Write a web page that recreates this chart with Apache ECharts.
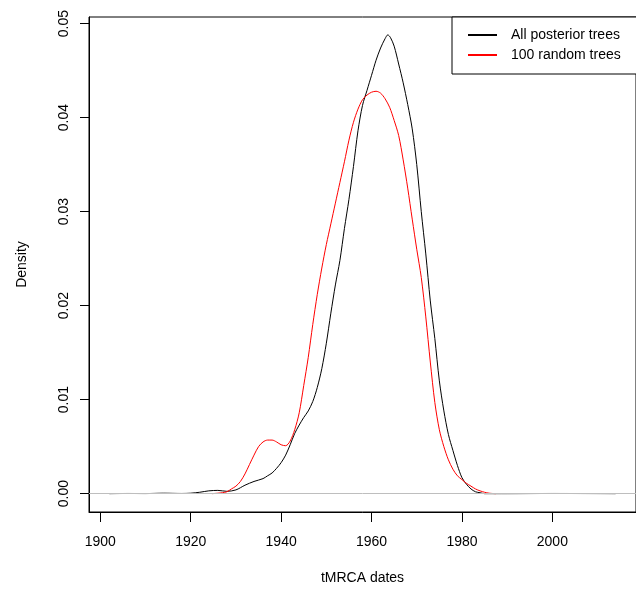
<!DOCTYPE html>
<html>
<head>
<meta charset="utf-8">
<script src="https://cdn.jsdelivr.net/npm/echarts@6/dist/echarts.min.js"></script>
<style>
  html, body { margin: 0; padding: 0; background: #fff; }
  #chart { width: 636px; height: 593px; }
</style>
</head>
<body>
<div id="chart"></div>
<script>
// density of tMRCA dates
const allYears = [1902, 1906, 1910, 1914, 1918, 1920, 1922, 1924, 1926, 1928, 1930, 1932, 1934, 1936, 1937, 1938, 1939, 1940, 1941, 1942, 1943, 1944, 1945, 1946, 1947, 1948, 1949, 1950, 1951, 1952, 1953, 1954, 1955, 1956, 1957, 1958, 1959, 1960, 1961, 1962, 1963, 1963.6, 1964.2, 1965, 1966, 1967, 1968, 1969, 1970, 1971, 1972, 1973, 1974, 1975, 1976, 1977, 1978, 1979, 1980, 1981, 1982, 1983, 1984, 1985, 1990, 2000, 2014];
const allDensity = [0, 0.00002, 0.00001, 0.00005, 0.00002, 0.00005, 0.00015, 0.0003, 0.00035, 0.00025, 0.0004, 0.0009, 0.0013, 0.0016, 0.0019, 0.0022, 0.0027, 0.0033, 0.0041, 0.0052, 0.0064, 0.0073, 0.0081, 0.0088, 0.0098, 0.0113, 0.0133, 0.0160, 0.0192, 0.0222, 0.0248, 0.0282, 0.0313, 0.0348, 0.0386, 0.0413, 0.0429, 0.0445, 0.0461, 0.0474, 0.0484, 0.0488, 0.0485, 0.0476, 0.0457, 0.0437, 0.0414, 0.0388, 0.0350, 0.0300, 0.0255, 0.0205, 0.0165, 0.0120, 0.0088, 0.0063, 0.0046, 0.0030, 0.0017, 0.0010, 0.0005, 0.0002, 0.0001, 0, 0, 0.00002, 0];

const randYears = [1924.7, 1926, 1927, 1928, 1929, 1930, 1931, 1932, 1933, 1934, 1935, 1936, 1937, 1938, 1939, 1940, 1941, 1942, 1943, 1944, 1945, 1946, 1947, 1948, 1949, 1950, 1951, 1952, 1953, 1954, 1955, 1956, 1957, 1958, 1959, 1960, 1961, 1962, 1963, 1964, 1965, 1966, 1967, 1968, 1969, 1970, 1971, 1972, 1973, 1974, 1975, 1976, 1977, 1978, 1979, 1980, 1981, 1982, 1983, 1984, 1985, 1986, 1987.5];
const randDensity = [0, 0.00005, 0.0001, 0.0002, 0.0005, 0.0008, 0.0013, 0.0021, 0.0031, 0.0041, 0.0050, 0.0055, 0.0057, 0.0057, 0.0055, 0.0052, 0.0051, 0.0056, 0.0068, 0.0086, 0.0115, 0.0145, 0.0180, 0.0212, 0.0240, 0.0265, 0.0287, 0.0309, 0.0331, 0.0353, 0.0376, 0.0395, 0.0409, 0.0419, 0.0424, 0.0427, 0.0428, 0.0426, 0.0420, 0.0411, 0.0397, 0.0381, 0.0355, 0.0325, 0.0292, 0.0260, 0.0230, 0.0188, 0.0140, 0.0097, 0.0068, 0.0050, 0.0036, 0.0026, 0.0019, 0.0015, 0.0011, 0.0008, 0.0005, 0.0003, 0.00015, 0.00005, 0];

const xTicks = [1900, 1920, 1940, 1960, 1980, 2000];
const yTicks = [0, 0.01, 0.02, 0.03, 0.04, 0.05];

const font = 'Liberation Sans, Arial, sans-serif';

const pairs = (xs, ys) => xs.map((x, i) => [x, ys[i]]);

const chart = echarts.init(document.getElementById('chart'));
chart.setOption({
  animation: false,
  backgroundColor: '#fff',
  grid: {
    left: 89, top: 17, right: -5, bottom: 81,
    show: true, borderColor: '#000', borderWidth: 1
  },
  legend: {
    orient: 'vertical',
    left: 452, top: 17,
    padding: [11, 20, 12, 15],
    itemWidth: 29, itemHeight: 14, itemGap: 6,
    borderColor: '#000', borderWidth: 1, borderRadius: 0,
    backgroundColor: '#fff',
    itemStyle: { opacity: 0 },
    textStyle: { fontFamily: font, fontSize: 14, color: '#000', padding: [0, 0, 0, 9] },
    data: ['All posterior trees', '100 random trees']
  },
  xAxis: {
    type: 'value',
    min: 1897.5, max: 2018.5,
    name: 'tMRCA dates', nameLocation: 'middle', nameGap: 59,
    nameTextStyle: { fontFamily: font, fontSize: 14, color: '#000' },
    axisLine: { show: true, onZero: false, lineStyle: { color: '#000', width: 1 } },
    axisTick: { show: true, length: 10, customValues: xTicks, lineStyle: { color: '#000' } },
    axisLabel: {
      customValues: xTicks, margin: 23, fontFamily: font, fontSize: 14, color: '#000',
      formatter: v => String(v)
    },
    splitLine: { show: false }
  },
  yAxis: {
    type: 'value',
    min: -0.00195, max: 0.0507,
    name: 'Density', nameLocation: 'middle', nameGap: 60, nameRotate: 90,
    nameTextStyle: { fontFamily: font, fontSize: 14, color: '#000' },
    axisLine: { show: true, onZero: false, lineStyle: { color: '#000', width: 1 } },
    axisTick: { show: true, length: 9, customValues: yTicks, lineStyle: { color: '#000' } },
    axisLabel: {
      customValues: yTicks, rotate: 90, margin: 18,
      fontFamily: font, fontSize: 14, color: '#000',
      formatter: v => v.toFixed(2)
    },
    splitLine: { show: false }
  },
  series: [
    {
      name: 'All posterior trees',
      type: 'line',
      symbol: 'none',
      smooth: 0.3,
      data: pairs(allYears, allDensity),
      lineStyle: { color: '#000', width: 1 },
      itemStyle: { color: '#000' },
      markLine: {
        silent: true, symbol: 'none', label: { show: false },
        lineStyle: { color: '#bebebe', type: 'solid', width: 1 },
        data: [{ yAxis: 0 }]
      },
      z: 3
    },
    {
      name: '100 random trees',
      type: 'line',
      symbol: 'none',
      smooth: 0.3,
      data: pairs(randYears, randDensity),
      lineStyle: { color: '#ff0000', width: 1 },
      itemStyle: { color: '#ff0000' },
      z: 4
    }
  ]
});
</script>
</body>
</html>
